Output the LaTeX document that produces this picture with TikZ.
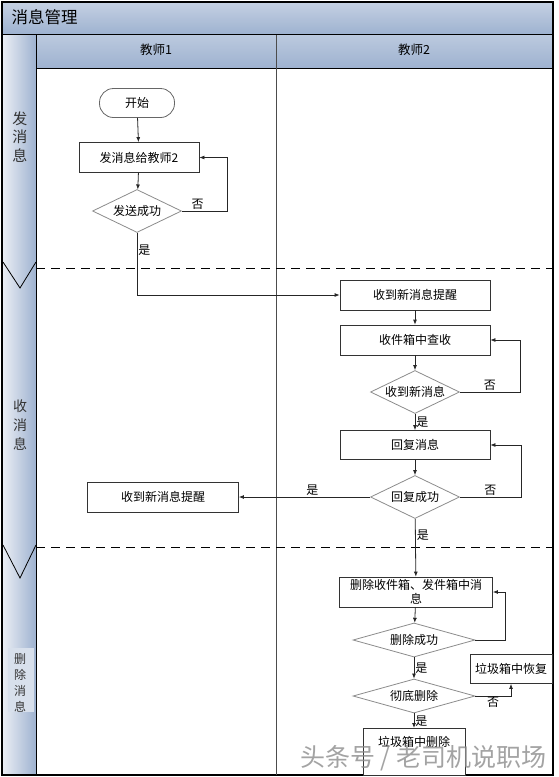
\documentclass[tikz,border=0pt]{standalone}
\usepackage{fontspec}
\setmainfont{Noto Sans CJK SC}
\usetikzlibrary{shapes.geometric,arrows.meta}
\definecolor{lanebar}{RGB}{158,178,208}
\definecolor{lanelight}{RGB}{236,239,245}
\begin{document}
\begin{tikzpicture}[
  x=1pt, y=-1pt,
  msgbox/.style = {draw=black!80, line width=0.8pt, fill=white, minimum width=150pt, minimum height=30pt, inner sep=2pt, font=\fontsize{12}{14}\selectfont},
  msgdec/.style = {diamond, draw=black!45, line width=0.8pt, fill=white, aspect=2.1, inner sep=0pt, minimum width=89pt, minimum height=43pt, font=\fontsize{12}{14}\selectfont},
  msgstart/.style = {rectangle, rounded corners=14pt, draw=black!60, line width=0.8pt, fill=white, minimum width=75pt, minimum height=29pt, font=\fontsize{12}{14}\selectfont},
  msgarrow/.style = {-{Latex[length=5pt, width=4pt]}, line width=0.8pt, draw=black!85},
  msglbl/.style = {font=\fontsize{12}{14}\selectfont, inner sep=1pt},
  lanehead/.style = {font=\fontsize{12.5}{14}\selectfont},
  phaselbl/.style = {align=center, inner sep=1pt, text=black!80},
  lanesep/.style = {dash pattern=on 9pt off 6pt, line width=1pt}
]
  \useasboundingbox (0,0) rectangle (558,777);
  \fill[white] (0,0) rectangle (558,777);
  % title bar and lane heads
  \shade[top color=lanebar!60!white, middle color=lanelight, bottom color=lanebar] (2,2) rectangle (553,34);
  \shade[top color=lanebar!70!white, middle color=lanelight, bottom color=lanebar] (36,35) rectangle (553,68);
  \shade[left color=lanelight, right color=lanebar] (2,35) rectangle (36,775);
  \fill[lanelight!75!lanebar] (8,648) rectangle (34,712);
  \node[anchor=west, font=\fontsize{16.5}{18}\selectfont] (title) at (8,17) {消息管理};
  \node[lanehead] (teacher1) at (156,50) {教师1};
  \node[lanehead] (teacher2) at (414,50) {教师2};
  % frame and lanes
  \draw[line width=1.5pt] (2,2) rectangle (553,775);
  \draw[line width=1pt] (2,34.5) -- (553,34.5);
  \draw[line width=1pt] (36,35) -- (36,775);
  \draw[line width=0.8pt] (36,68) -- (553,68);
  \draw[line width=0.6pt, black!70] (276,35) -- (276,775);
  \draw[lanesep] (36,268) -- (553,268);
  \draw[lanesep] (36,547) -- (553,547);
  % phases
  \draw[line width=0.8pt] (3,262) -- (20,288) -- (36,262);
  \draw[line width=0.8pt] (3,545) -- (20,578) -- (36,545);
  \node[phaselbl, font=\fontsize{15}{18.5}\selectfont] (phase1) at (20,137) {发\\消\\息};
  \node[phaselbl, font=\fontsize{14}{19}\selectfont] (phase2) at (20,425) {收\\消\\息};
  \node[phaselbl, font=\fontsize{12}{16}\selectfont] (phase3) at (20,683) {删\\除\\消\\息};
  % teacher 1
  \node[msgstart] (start) at (137,103) {开始};
  \node[msgbox, minimum width=120pt] (send) at (139,157.5) {发消息给教师2};
  \node[msgdec] (sendok) at (137,211) {发送成功};
  \node[msgbox, minimum width=151pt] (notify) at (163,497) {收到新消息提醒};
  % teacher 2
  \node[msgbox] (recv) at (415,295) {收到新消息提醒};
  \node[msgbox] (inbox) at (415,340) {收件箱中查收};
  \node[msgdec] (gotnew) at (415,392) {收到新消息};
  \node[msgbox, minimum height=29pt] (reply) at (415,445) {回复消息};
  \node[msgdec] (replyok) at (415,497) {回复成功};
  \node[msgbox, minimum width=153pt, align=center, inner sep=1pt] (delmsg) at (416,592) {删除收件箱、发件箱中消\\息};
  \node[msgdec, minimum width=122pt, minimum height=34pt] (delok) at (414,640) {删除成功};
  \node[msgdec, minimum width=122pt, minimum height=34pt] (purge) at (414,696) {彻底删除};
  \node[msgbox, minimum width=82pt, minimum height=29pt] (restore) at (511,669) {垃圾箱中恢复};
  \node[msgbox, anchor=north, minimum width=102pt, text height=16pt, text depth=27pt] (trash) at (414,728) {垃圾箱中删除};
  % connectors
  \draw[msgarrow] (start) -- (send);
  \draw[msgarrow] (send) -- (sendok);
  \draw[msgarrow] (sendok.east) -- ++(45,0) node[msglbl, pos=0.35, above] {否} |- (send.east);
  \draw[msgarrow] (sendok.south) |- (recv.west) node[msglbl, pos=0.14, right] {是};
  \draw[msgarrow] (recv) -- (inbox);
  \draw[msgarrow] (inbox) -- (gotnew);
  \draw[msgarrow] (gotnew.east) -- ++(60,0) node[msglbl, pos=0.5, above] {否} |- (inbox.east);
  \draw[msgarrow] (gotnew) -- (reply) node[msglbl, pos=0.5, right] {是};
  \draw[msgarrow] (reply) -- (replyok);
  \draw[msgarrow] (replyok.east) -- ++(61,0) node[msglbl, pos=0.5, above] {否} |- (reply.east);
  \draw[msgarrow] (replyok.west) -- (notify.east) node[msglbl, pos=0.44, above] {是};
  \draw[msgarrow] (replyok) -- (delmsg) node[msglbl, pos=0.29, right] {是};
  \draw[msgarrow] (delmsg) -- (delok);
  \draw[msgarrow] (delok.east) -- ++(30,0) |- (delmsg.east);
  \draw[msgarrow] (delok) -- (purge) node[msglbl, pos=0.5, right] {是};
  \draw[msgarrow] (purge.east) -| (restore.south) node[msglbl, pos=0.25, below] {否};
  \draw[msgarrow] (purge) -- (trash) node[msglbl, pos=0.5, right] {是};
  % watermark
  \node[font=\fontsize{25}{28}\selectfont, text=black!45, opacity=0.8] (mark) at (423,758) {头条号 / 老司机说职场};
\end{tikzpicture}
\end{document}
